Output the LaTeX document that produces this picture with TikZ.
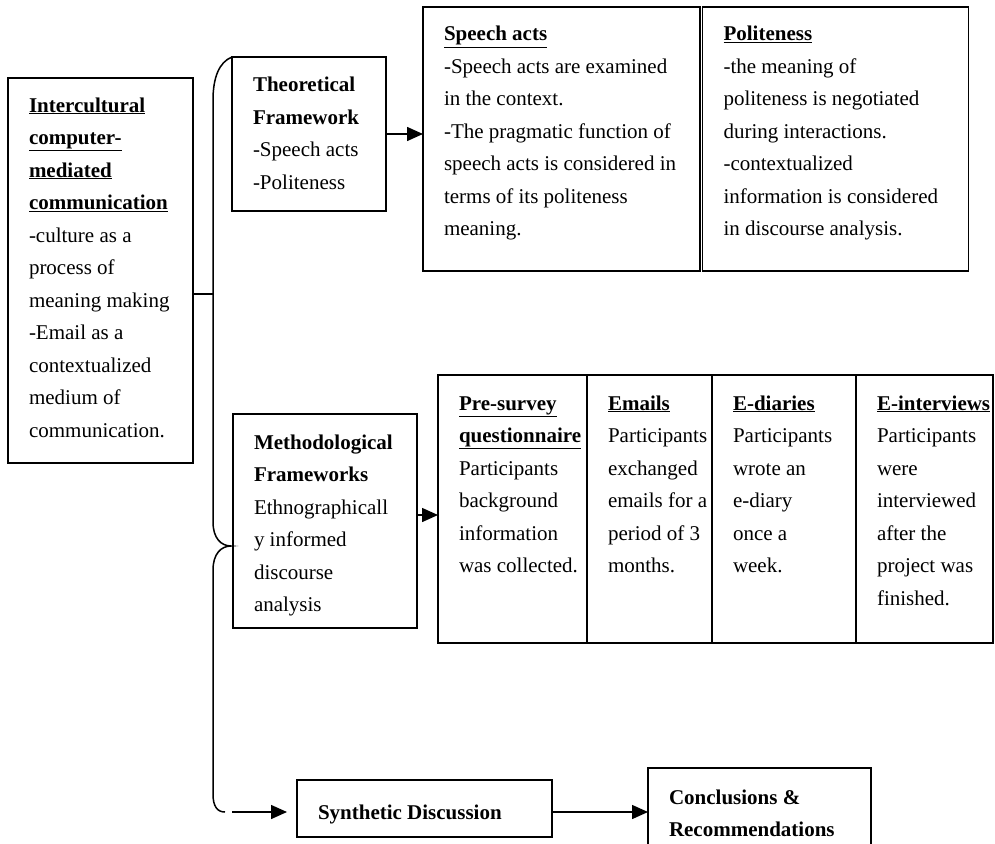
\documentclass[tikz,border=0pt]{standalone}
\usepackage{fontspec}
\setmainfont{Liberation Serif}
\usetikzlibrary{arrows.meta,positioning}

\begin{document}
\begin{tikzpicture}[x=1pt,y=-1pt,>={Triangle[length=16pt,width=14pt]},node distance=0pt,
  box/.style={draw,line width=1.5pt,anchor=north west,align=left,inner sep=0pt,outer sep=0pt,
    font=\fontsize{21}{32.5}\selectfont,
    execute at begin node={\leftskip=21pt\spaceskip=0pt\xspaceskip=0pt\relax}},
  link/.style={line width=1.5pt},
  arr/.style={->,line width=1.5pt}]
\useasboundingbox (0,0) rectangle (995,843);
  \node[box,text width=185pt,text height=34pt,text depth=351pt] (ICMC) at (8,78)
    {\underline{\textbf{Intercultural}}\\ \underline{\textbf{computer-}}\\
     \underline{\textbf{mediated}}\\ \underline{\textbf{communication}}\\
     -culture as a\\ process of\\ meaning making\\ -Email as a\\
     contextualized\\ medium of\\ communication.};
  \node[box,text width=154pt,text height=35pt,text depth=119pt] (TF) at (232,57)
    {\textbf{Theoretical}\\ \textbf{Framework}\\ -Speech acts\\ -Politeness};
  \node[box,text width=277pt,text height=34pt,text depth=230pt] (SA) at (423,7)
    {\underline{\textbf{Speech acts}}\\ -Speech acts are examined\\ in the context.\\
     -The pragmatic function of\\ speech acts is considered in\\
     terms of its politeness\\ meaning.};
  \node[box,text width=266pt,text height=34pt,text depth=230pt] (PO) [right=2.5pt of SA]
    {\underline{\textbf{Politeness}}\\ -the meaning of\\ politeness is negotiated\\
     during interactions.\\ -contextualized\\ information is considered\\
     in discourse analysis.};
  \node[box,text width=184pt,text height=35pt,text depth=179pt] (MF) at (233,414)
    {\textbf{Methodological}\\ \textbf{Frameworks}\\ Ethnographicall\\ y informed\\
     discourse\\ analysis};
  \node[box,text width=149pt,text height=35pt,text depth=233pt] (PS) at (438,375)
    {\underline{\textbf{Pre-survey}}\\ \underline{\textbf{questionnaire}}\\ Participants\\
     background\\ information\\ was collected.};
  \node[box,text width=125pt,text height=35pt,text depth=233pt] (EM) [right=of PS]
    {\underline{\textbf{Emails}}\\ Participants\\ exchanged\\ emails for a\\
     period of 3\\ months.};
  \node[box,text width=144pt,text height=35pt,text depth=233pt] (ED) [right=of EM]
    {\underline{\textbf{E-diaries}}\\ Participants\\ wrote an\\ e-diary\\ once a\\ week.};
  \node[box,text width=137pt,text height=35pt,text depth=233pt] (EI) [right=of ED]
    {\underline{\textbf{E-interviews}}\\ Participants\\ were\\ interviewed\\ after the\\
     project was\\ finished.};
  \node[box,text width=255pt,text height=39pt,text depth=18pt] (SD) at (297,780)
    {\textbf{Synthetic Discussion}};
  \node[box,text width=223pt,text height=36pt,text depth=80pt] (CR) at (648,768)
    {\textbf{Conclusions \&}\\ \textbf{Recommendations}};
\coordinate (brjoin) at (213,294);
\coordinate (brtip)  at (231,546);
\coordinate (brend)  at (225,812);
\coordinate (brout)  at (232,812);
\draw[link] (TF.north west) .. controls (219,62) and (213,78) .. (213,100) -- (213,522)
  .. controls (213,538) and (221,546) .. (brtip)
  .. controls (221,546) and (213,554) .. (213,570) -- (213,794)
  .. controls (213,806) and (217,812) .. (brend);
\draw[link] (ICMC.east |- brjoin) -- (brjoin);
\draw[arr] (TF.east) -- (TF.east -| SA.west);
\draw[arr] ([yshift=6pt]MF.east) -- ([yshift=6pt]MF.east -| PS.west);
\draw[arr,shorten >=10pt] (brout) -- (SD.west |- brout);
\draw[arr] ([yshift=-3.5pt]SD.east) -- ([yshift=-3.5pt]SD.east -| CR.west);
\end{tikzpicture}
\end{document}
